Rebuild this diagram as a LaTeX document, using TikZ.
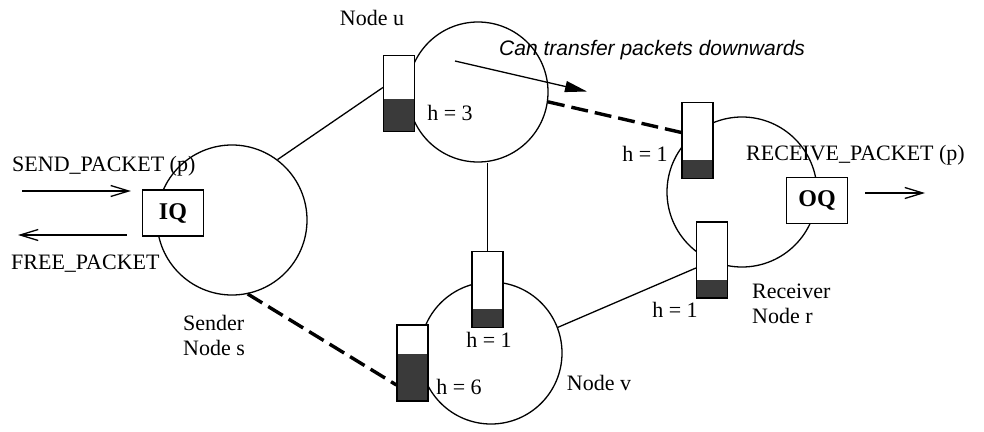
\documentclass[tikz,border=0pt]{standalone}
\usepackage{fontspec}
\setmainfont{Liberation Serif}
\newfontfamily\helv{Liberation Sans}
\usetikzlibrary{arrows.meta}
\pgfdeclarelayer{under}
\pgfsetlayers{under,main}
\definecolor{lvl}{RGB}{58,58,58}
\tikzset{
  netnode/.style={circle, draw, line width=1.3pt, inner sep=0pt, minimum size=#1},
  queue/.style={draw, fill=white, line width=1.2pt, inner sep=0pt,
    minimum width=31pt, minimum height=76pt,
    path picture={\fill[lvl] (path picture bounding box.south west)
      rectangle ([yshift=#1]path picture bounding box.south east);}},
  qbox/.style={draw, fill=white, line width=1.2pt, inner sep=0pt,
    minimum width=61pt, minimum height=46pt, font=\fontsize{24}{26}\selectfont\bfseries},
  lbl/.style={inner sep=0pt, font=\fontsize{22}{25}\selectfont},
  link/.style={line width=1.3pt},
  dlink/.style={line width=3.4pt, dash pattern=on 17pt off 7pt},
  io/.style={line width=1.3pt, -{Straight Barb[length=18pt,width=11pt,line width=1.3pt]}},
  flow/.style={line width=1.3pt, -{Triangle[length=22pt,width=11pt]}}
}
\begin{document}
\begin{tikzpicture}[x=1pt, y=-1pt]
\useasboundingbox (0,0) rectangle (984,431);

% queues with their fill levels (drawn over the circles)
\node[queue=33pt] (bu) at (399,93.5) {};
\node[queue=19pt] (br1) at (697.5,140.5) {};
\node[queue=18pt] (br2) at (712,260) {};
\node[queue=19pt] (bv1) at (487.5,289.5) {};
\node[queue=47pt] (bv2) at (412.5,363) {};

% input and output queues
\node[qbox] (iq) at (173,213) {IQ};
\node[qbox] (oq) at (817,200.5) {OQ};

\begin{pgfonlayer}{under}
% nodes of the network
\node[netnode=150pt] (s) at (232,220) {};
\node[netnode=140pt] (u) at (478,92) {};
\node[netnode=150pt] (r) at (742,192) {};
\node[netnode=142pt] (v) at (491,353) {};

% links between nodes
\draw[link] (s.53) -- ([yshift=6pt]bu.west);
\draw[link] (bv1.north) -- (bv1.north |- u.south);
\draw[link] (v.21) -- ([yshift=-8pt]br2.west);
\draw[dlink] (u.-8) -- ([yshift=8pt]br1.west);
\draw[dlink] (s.-78) -- ([yshift=-22pt]bv2.west);
\end{pgfonlayer}

% external arrows
\coordinate (sendA) at (22,191);
\coordinate (freeB) at (18,235);
\coordinate (outB) at (925,193);
\coordinate (tA) at (455,61);
\coordinate (tB) at (587,91.5);
\draw[io] (sendA) -- ([xshift=-11pt]iq.west |- sendA);
\draw[io] ([xshift=-15pt]iq.west |- freeB) -- (freeB);
\draw[io] ([xshift=17pt]oq.east |- outB) -- (outB);
\draw[flow] (tA) -- (tB);

% labels
\node[lbl] (lu) at (372,18) {Node u};
\node[lbl, anchor=west, font=\fontsize{21}{24}\selectfont\helv\itshape] (lt) at (499,50) {Can transfer packets downwards};
\node[lbl] (h3) at (450,113) {h = 3};
\node[lbl, anchor=west] (lsend) at (12,166) {SEND\_PACKET (p)};
\node[lbl, anchor=west] (lfree) at (11,264) {FREE\_PACKET};
\node[lbl] (h1a) at (645,154) {h = 1};
\node[lbl, anchor=west] (lrecv) at (746,155) {RECEIVE\_PACKET (p)};
\node[lbl, anchor=west, align=left] (lr) at (752,304) {Receiver\\Node r};
\node[lbl] (h1b) at (675,310) {h = 1};
\node[lbl, anchor=west, align=left] (ls) at (183,335) {Sender\\Node s};
\node[lbl] (h1c) at (489,340) {h = 1};
\node[lbl] (h6) at (459,387) {h = 6};
\node[lbl] (lv) at (599,383) {Node v};
\end{tikzpicture}
\end{document}
